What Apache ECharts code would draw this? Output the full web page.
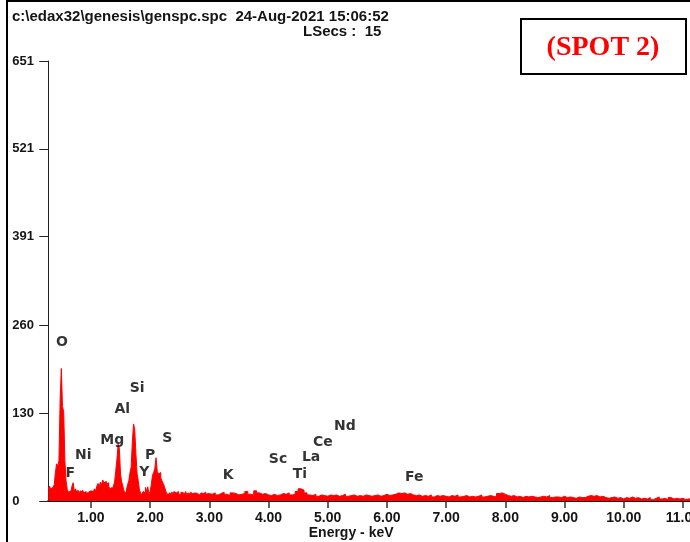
<!DOCTYPE html>
<html>
<head>
<meta charset="utf-8">
<script src="https://cdn.jsdelivr.net/npm/echarts@6/dist/echarts.min.js"></script>
<style>
  html, body { margin: 0; padding: 0; background: #fff; }
  #main { width: 690px; height: 542px; }
</style>
</head>
<body>
<div id="main"></div>
<script>
// spectrum counts, low part: 0.02 keV channels from 0.28 keV
const lowStart = 0.28
const lowStep = 0.02
const lowCounts = [
  18, 22, 18, 20, 19, 24, 42, 55, 52, 60,
  150, 196, 140, 132, 60, 30, 17, 13, 15, 12,
  22, 27, 14, 18, 13, 16, 12, 15, 13, 16,
  12, 14, 11, 13, 12, 15, 13, 14, 12, 18,
  15, 22, 26, 21, 28, 24, 31, 27, 29, 25,
  27, 22, 18, 20, 16, 22, 28, 45, 62, 84,
  78, 40, 28, 22, 14, 12, 17, 24, 30, 42,
  50, 88, 114, 106, 70, 40, 30, 16, 12, 9,
  14, 12, 20, 15, 21, 10, 14, 24, 38, 42,
  48, 64, 44, 40, 42, 34, 30, 26, 22, 16,
  11, 9, 12, 10, 13, 11, 14, 12, 10, 14,
  11, 9, 13, 12, 10, 11, 14, 9, 12, 10,
  13, 11, 9, 12, 10, 11, 13, 9, 10, 12,
  11, 9, 13, 10, 11, 12
]
// spectrum counts, high part: 0.05 keV channels from 3.00 keV
const highStart = 3.0
const highStep = 0.05
const highCounts = [
  10, 12, 9, 11, 13, 10, 8, 12, 11, 9, 10,
  11, 14, 10, 9, 15, 12, 10, 11, 9, 8,
  10, 8, 9, 11, 10, 12, 9, 10,
  14, 18, 16, 12,
  9, 8, 10, 7, 9, 8, 7, 9,
  8, 9, 7, 8, 10, 7, 8, 9, 7, 8,
  7, 9, 8, 7, 8, 9, 7, 8, 10,
  8, 9, 10, 12, 11, 12, 10, 11, 9, 8, 9,
  7, 8, 7, 9, 6, 8, 7, 8,
  7, 6, 8, 7, 9, 6, 7, 8, 6, 7,
  6, 7, 9, 6, 7, 8, 7, 6, 11,
  12, 10, 8, 7, 8, 6, 7, 5, 7, 6,
  7, 6, 5, 6, 7, 6, 8, 5, 6,
  6, 5, 7, 5, 6, 5, 4, 6, 5, 5,
  7, 8, 7, 8, 6, 7, 5,
  4, 5, 6, 4, 5, 3, 5, 4, 6, 4, 5, 3,
  4, 3, 5, 2, 4, 6, 3, 4, 2, 5, 3, 4,
  3, 4, 2, 3, 4, 3, 3
]

// element markers: name, energy (keV), label height (counts)
const elemNames = ['O', 'F', 'Ni', 'Mg', 'Al', 'Si', 'P', 'Y', 'S', 'K', 'Sc', 'Ti', 'La', 'Ce', 'Nd', 'Fe']
const elemEnergy = [0.51, 0.65, 0.87, 1.36, 1.53, 1.78, 2.0, 1.9, 2.29, 3.32, 4.16, 4.53, 4.72, 4.92, 5.29, 6.46]
const elemHeight = [234, 41, 67, 90, 136, 166, 68, 43, 93, 38, 62, 40, 64, 87, 111, 35]

const xTicks = [1, 2, 3, 4, 5, 6, 7, 8, 9, 10, 11]
const yTicks = [0, 130, 260, 391, 521, 651]

const spectrum = []
lowCounts.forEach((c, i) => spectrum.push([lowStart + i * lowStep, c]))
highCounts.forEach((c, i) => spectrum.push([highStart + i * highStep, c]))

const elems = elemNames.map((n, i) => ({ name: n, value: [elemEnergy[i], elemHeight[i]] }))

const txt = '#151515'
const chart = echarts.init(document.getElementById('main'))
const option = {
  backgroundColor: '#ffffff',
  animation: false,
  grid: { left: 48.3, right: 0, top: 61, bottom: 41, outerBoundsMode: 'none', containLabel: false },
  xAxis: {
    type: 'value',
    min: 0.28,
    max: 11.12,
    name: 'Energy - keV',
    nameLocation: 'middle',
    nameGap: 25,
    nameMoveOverlap: false,
    nameTextStyle: { color: txt, fontFamily: 'Liberation Sans', fontWeight: 'bold', fontSize: 14, padding: [0, 36, 0, 0] },
    splitLine: { show: false },
    axisLine: { lineStyle: { color: '#000', width: 2 } },
    axisTick: { customValues: xTicks, length: 7, lineStyle: { color: '#333', width: 1.5 } },
    axisLabel: {
      customValues: xTicks,
      margin: 10,
      color: txt,
      fontFamily: 'Liberation Sans',
      fontWeight: 'bold',
      fontSize: 14,
      formatter: v => v.toFixed(2)
    }
  },
  yAxis: {
    type: 'value',
    min: 0,
    max: 651,
    splitLine: { show: false },
    axisLine: { show: true, lineStyle: { color: '#222', width: 1 } },
    axisTick: { customValues: yTicks, length: 9, lineStyle: { color: '#222', width: 1 } },
    axisLabel: {
      customValues: yTicks,
      margin: 36,
      align: 'left',
      color: txt,
      fontFamily: 'Liberation Sans',
      fontWeight: 'bold',
      fontSize: 13
    }
  },
  series: [
    {
      name: 'spectrum',
      type: 'line',
      step: 'end',
      data: spectrum,
      symbol: 'none',
      lineStyle: { color: '#ff0000', width: 1 },
      areaStyle: { color: '#ff0000', opacity: 1 },
      z: 2
    },
    {
      name: 'elements',
      type: 'scatter',
      data: elems,
      symbolSize: 1,
      itemStyle: { color: 'rgba(0,0,0,0)' },
      label: {
        show: true,
        position: 'inside',
        formatter: p => p.name,
        color: '#000',
        fontFamily: 'DejaVu Sans',
        fontWeight: 'bold',
        fontSize: 14
      },
      z: 5
    }
  ],
  graphic: [
    { type: 'rect', shape: { x: 7, y: 1, width: 700, height: 560 }, style: { fill: null, stroke: '#000', lineWidth: 2 }, silent: true },
    {
      type: 'text', left: 12, top: 9,
      style: { text: 'c:\\edax32\\genesis\\genspc.spc  24-Aug-2021 15:06:52', fill: txt, font: 'bold 15px "Liberation Sans"' }
    },
    {
      type: 'text', left: 303, top: 24,
      style: { text: 'LSecs :  15', fill: txt, font: 'bold 15px "Liberation Sans"' }
    },
    { type: 'rect', shape: { x: 521, y: 19, width: 165, height: 55 }, style: { fill: '#fff', stroke: '#000', lineWidth: 2 } },
    {
      type: 'text', x: 603, y: 48,
      style: { text: '(SPOT 2)', fill: '#ff0000', font: 'bold 28px "Liberation Serif"', align: 'center', verticalAlign: 'middle' }
    }
  ]
}
chart.setOption(option)
</script>
</body>
</html>
